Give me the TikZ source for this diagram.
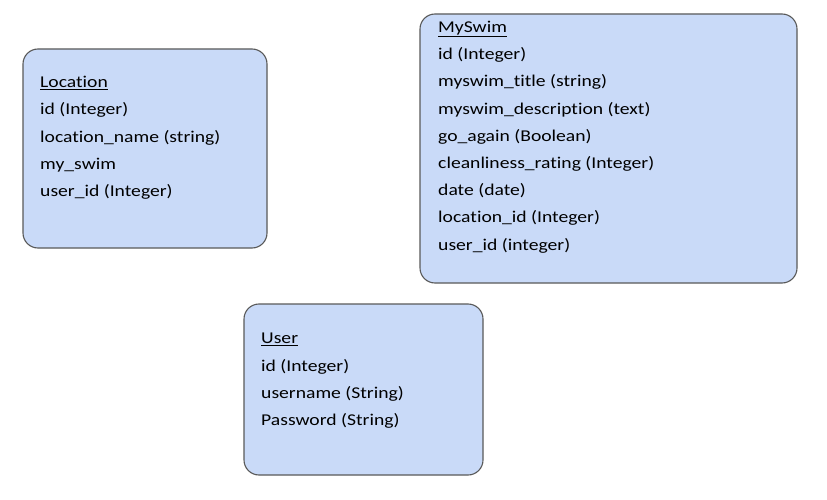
\documentclass[tikz,border=0pt]{standalone}
\usepackage{fontspec}
\setmainfont[FakeStretch=1.19, Ligatures=NoCommon]{Carlito}
\definecolor{boxfill}{HTML}{C9DAF8}
\definecolor{boxline}{HTML}{595959}
\begin{document}
\begin{tikzpicture}[x=1pt, y=-1pt, line join=round, line cap=round,
		table/.style={draw=boxline, fill=boxfill, line width=1.1pt, rounded corners=15pt},
		fields/.style={anchor=base west, inner sep=0pt, align=left, font=\fontsize{16.5}{27.2}\selectfont}]
			\useasboundingbox (0,0) rectangle (827,500);
			% entity boxes
			\draw[table] (23,49) rectangle (267,248) coordinate (location);
			\draw[table] (420,14) rectangle (797,283) coordinate (myswim);
			\draw[table] (244,304) rectangle (483,475) coordinate (user);
			% field lists (anchored at the baseline of the last line)
			\node[fields] (location text) at (40,196.5) {\underline{Location}\\id (Integer)\\location\_name (string)\\my\_swim\\user\_id (Integer)};
			\node[fields] (myswim text) at (438,250) {\underline{MySwim}\\id (Integer)\\myswim\_title (string)\\myswim\_description (text)\\go\_again (Boolean)\\cleanliness\_rating (Integer)\\date (date)\\location\_id (Integer)\\user\_id (integer)};
			\node[fields] (user text) at (261,425.5) {\underline{User}\\id (Integer)\\username (String)\\Password (String)};
		\end{tikzpicture}
\end{document}
